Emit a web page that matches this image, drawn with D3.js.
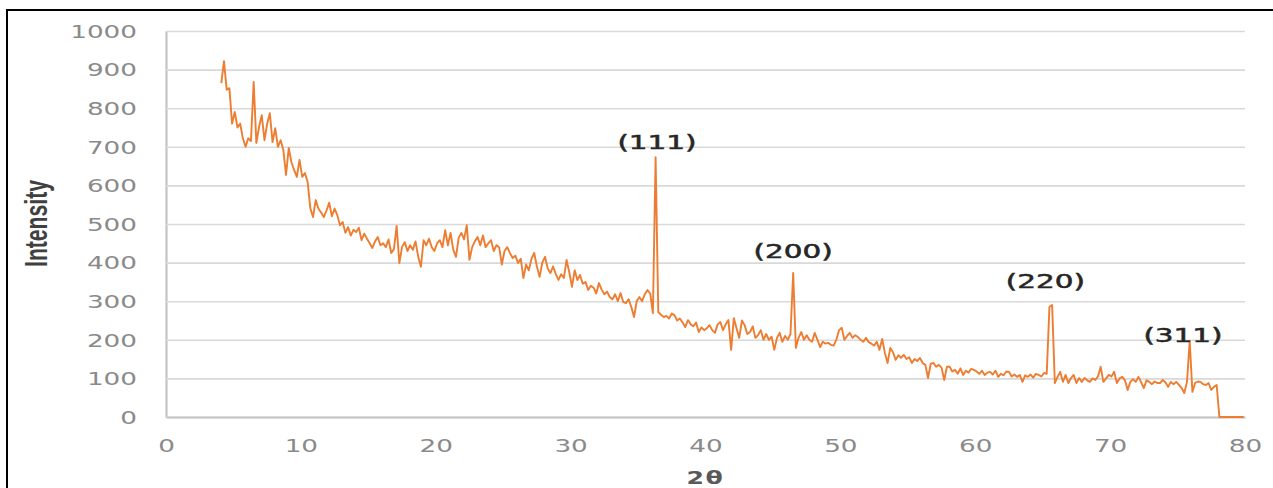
<!DOCTYPE html>
<meta charset="utf-8">
<script src="https://d3js.org/d3.v7.min.js"></script>
<style>
  body { margin: 0; background: #fff; }
</style>
<div id="chart"></div>
<script>

// XRD pattern, sampled every 0.2 degrees from 4.1
var angleStart = 4.1, angleStep = 0.2;
var intensity = [
  865, 922, 848, 852, 760,   // 4
  790, 750, 760, 722, 700,   // 5
  722, 715, 868, 710, 752,   // 6
  782, 717, 760, 787, 712,   // 7
  748, 700, 717, 692, 627,   // 8
  697, 660, 640, 622, 666,   // 9
  622, 632, 609, 541, 518,   // 10
  562, 540, 530, 518, 535,   // 11
  555, 520, 540, 523, 497,   // 12
  505, 477, 492, 470, 485,   // 13
  479, 490, 458, 475, 462,   // 14
  450, 438, 455, 466, 445,   // 15
  450, 440, 460, 425, 435,   // 16
  495, 399, 440, 453, 430,   // 17
  445, 433, 455, 415, 389,   // 18
  458, 445, 462, 440, 430,   // 19
  450, 458, 440, 484, 445,   // 20
  477, 433, 415, 464, 477,   // 21
  460, 497, 407, 440, 455,   // 22
  466, 445, 470, 440, 450,   // 23
  458, 430, 445, 440, 395,   // 24
  430, 440, 425, 412, 418,   // 25
  399, 410, 360, 395, 380,   // 26
  410, 425, 390, 363, 400,   // 27
  415, 385, 373, 390, 370,   // 28
  355, 370, 360, 407, 375,   // 29
  337, 380, 355, 368, 345,   // 30
  350, 329, 340, 335, 320,   // 31
  347, 330, 318, 325, 311,   // 32
  305, 318, 300, 321, 298,   // 33
  295, 305, 285, 259, 300,   // 34
  311, 300, 318, 329, 320,   // 35
  269, 673, 272, 265, 259,   // 36
  262, 255, 268, 264, 250,   // 37
  255, 245, 233, 251, 240,   // 38
  235, 245, 220, 232, 225,   // 39
  230, 238, 225, 218, 240,   // 40
  246, 225, 240, 251, 174,   // 41
  256, 230, 205, 250, 238,   // 42
  215, 220, 235, 205, 212,   // 43
  225, 200, 215, 200, 208,   // 44
  174, 205, 218, 195, 210,   // 45
  200, 215, 373, 179, 205,   // 46
  220, 200, 212, 200, 195,   // 47
  218, 200, 181, 195, 190,   // 48
  192, 187, 185, 200, 225,   // 49
  231, 200, 210, 218, 205,   // 50
  212, 207, 200, 195, 205,   // 51
  194, 190, 185, 195, 174,   // 52
  202, 166, 140, 179, 168,   // 53
  148, 160, 153, 161, 150,   // 54
  155, 140, 150, 145, 153,   // 55
  140, 135, 101, 138, 140,   // 56
  130, 135, 128, 96, 130,    // 57
  130, 118, 122, 112, 126,   // 58
  109, 120, 115, 125, 122,   // 59
  118, 112, 120, 109, 115,   // 60
  117, 110, 120, 104, 112,   // 61
  108, 118, 117, 105, 110,   // 62
  104, 109, 91, 108, 104,    // 63
  110, 102, 112, 109, 105,   // 64
  114, 112, 285, 290, 88,    // 65
  104, 117, 91, 109, 88,     // 66
  101, 109, 88, 101, 91,     // 67
  101, 95, 91, 100, 96,      // 68
  105, 130, 91, 100, 109,    // 69
  105, 117, 88, 100, 104,    // 70
  95, 70, 91, 98, 91,        // 71
  104, 90, 75, 95, 91,       // 72
  85, 92, 88, 88, 96,        // 73
  90, 78, 91, 85, 91,        // 74
  83, 75, 62, 91, 197,       // 75
  65, 88, 92, 91, 85,        // 76
  83, 88, 70, 78, 83,        // 77
  0, 0, 0, 0, 0,             // 78
  0, 0, 0, 0, 0              // 79
];

var xTicks = [0, 10, 20, 30, 40, 50, 60, 70, 80];
var yTicks = [0, 100, 200, 300, 400, 500, 600, 700, 800, 900, 1000];

// peak labels (Miller indices) placed above their peaks
var peakLabels = ["(111)", "(200)", "(220)", "(311)"];
var peakLabelAngle = [36.4, 46.5, 65.2, 75.4];
var peakLabelValue = [694, 412, 334, 194];

var series = intensity.map(function(v, i) {
  return { a: angleStart + i * angleStep, v: v };
});

var W = 1273, H = 488;
var plotLeft = 166, plotRight = 1245, plotTop = 31, plotBottom = 417;

var svg = d3.select("#chart").append("svg")
  .attr("width", W)
  .attr("height", H);

// outer frame
svg.append("rect")
  .attr("x", 7).attr("y", 10)
  .attr("width", 1290).attr("height", 520)
  .attr("fill", "#fff")
  .attr("stroke", "#000")
  .attr("stroke-width", 2);

var x = d3.scaleLinear().domain([0, 80]).range([plotLeft, plotRight]);
var y = d3.scaleLinear().domain([0, 1000]).range([plotBottom, plotTop]);

// horizontal gridlines + y labels
var yAxis = svg.append("g")
  .attr("transform", "translate(" + plotLeft + ",0)")
  .call(d3.axisLeft(y).tickValues(yTicks).tickFormat(d3.format("d"))
    .tickSize(-(plotRight - plotLeft)).tickSizeOuter(0));
yAxis.selectAll(".tick line")
  .attr("stroke", "#d9d9d9")
  .attr("stroke-width", 1.6);
yAxis.select(".domain")
  .attr("stroke", "#c4c4c4")
  .attr("stroke-width", 2.2);
yAxis.selectAll(".tick text")
  .attr("x", -29 / 1.5)
  .attr("dy", "0.36em")
  .attr("transform", "scale(1.5,1)")
  .attr("fill", "#8a8a8a")
  .style("font-family", "DejaVu Sans")
  .style("font-size", "17.5px");

// x axis
var xAxis = svg.append("g")
  .attr("transform", "translate(0," + plotBottom + ")")
  .call(d3.axisBottom(x).tickValues(xTicks).tickSize(0).tickSizeOuter(0));
xAxis.select(".domain")
  .attr("stroke", "#c4c4c4")
  .attr("stroke-width", 2.2);
xAxis.selectAll(".tick text")
  .attr("y", 35)
  .attr("dy", 0)
  .attr("transform", "scale(1.5,1)")
  .attr("fill", "#8a8a8a")
  .style("font-family", "DejaVu Sans")
  .style("font-size", "17.5px");

// pattern line
var line = d3.line()
  .x(function(d) { return x(d.a); })
  .y(function(d) { return y(d.v); });

svg.append("path")
  .datum(series)
  .attr("d", line)
  .attr("fill", "none")
  .attr("stroke", "#ED7D31")
  .attr("stroke-width", 1.9)
  .attr("stroke-linejoin", "round");

// peak labels
svg.selectAll(".peak")
  .data(peakLabels)
  .enter().append("text")
  .attr("class", "peak")
  .attr("transform", function(d, i) {
    return "translate(" + x(peakLabelAngle[i]) + "," + y(peakLabelValue[i]) + ") scale(1.55,1)";
  })
  .attr("text-anchor", "middle")
  .attr("fill", "#262626")
  .attr("stroke", "#262626")
  .attr("stroke-width", 0.5)
  .style("font-family", "DejaVu Sans")
  .style("font-size", "19px")
  .text(function(d) { return d; });

// axis titles
svg.append("text")
  .attr("transform", "translate(" + ((plotLeft + plotRight) / 2) + ",484) scale(1.48,1)")
  .attr("text-anchor", "middle")
  .attr("fill", "#595959")
  .style("font-family", "DejaVu Sans")
  .style("font-weight", "bold")
  .style("font-size", "17px")
  .style("letter-spacing", "1px")
  .text("2θ");

svg.append("text")
  .attr("transform", "translate(47,223.5) rotate(-90) scale(1,1.45)")
  .attr("text-anchor", "middle")
  .attr("textLength", 87)
  .attr("lengthAdjust", "spacingAndGlyphs")
  .attr("fill", "#404040")
  .style("font-family", "Liberation Sans")
  .style("font-weight", "bold")
  .style("font-size", "22px")
  .text("Intensity");

</script>
